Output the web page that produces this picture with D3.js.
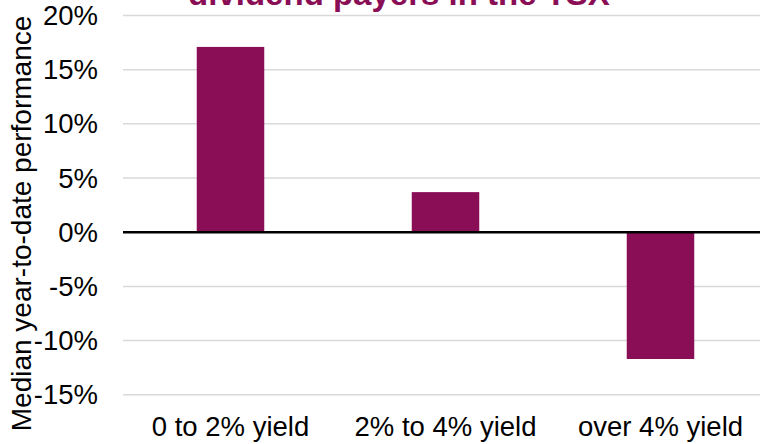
<!DOCTYPE html>
<html>
<head>
<meta charset="utf-8">
<script src="https://cdn.jsdelivr.net/npm/d3@7"></script>
<style>
  html, body { margin: 0; padding: 0; background: #ffffff; }
  svg { display: block; }
  text { font-family: "Liberation Sans", Arial, sans-serif; }
</style>
</head>
<body>
<svg id="chart" width="760" height="444"></svg>
<script>
// Median year-to-date performance by dividend yield bucket
const categories = ["0 to 2% yield", "2% to 4% yield", "over 4% yield"];
const values = [17.1, 3.7, -11.7];
const yTicks = [20, 15, 10, 5, 0, -5, -10, -15];
const titleText = "dividend payers in the TSX";
const yTitle = "Median year-to-date performance";

const W = 760, H = 444;
const plot = { left: 123, right: 768, top: 15.5, bottom: 394.75 };
const barColor = "#8a0e55";

const svg = d3.select("#chart");

const x = d3.scaleBand()
  .domain(categories)
  .range([plot.left, plot.right])
  .paddingInner(0.686)
  .paddingOuter(0.343);

const y = d3.scaleLinear()
  .domain([-15, 20])
  .range([plot.bottom, plot.top]);

// horizontal gridlines
svg.append("g")
  .selectAll("line")
  .data(yTicks.filter(d => d !== 0))
  .join("line")
  .attr("x1", plot.left)
  .attr("x2", W)
  .attr("y1", d => y(d))
  .attr("y2", d => y(d))
  .attr("stroke", "#d9d9d9")
  .attr("stroke-width", 1.5);

// bars
svg.append("g")
  .selectAll("rect")
  .data(values)
  .join("rect")
  .attr("x", (d, i) => x(categories[i]))
  .attr("width", x.bandwidth())
  .attr("y", d => y(Math.max(0, d)))
  .attr("height", d => Math.abs(y(d) - y(0)))
  .attr("fill", barColor);

// zero baseline
svg.append("line")
  .attr("x1", plot.left)
  .attr("x2", W)
  .attr("y1", y(0))
  .attr("y2", y(0))
  .attr("stroke", "#000000")
  .attr("stroke-width", 2.5);

// y tick labels
svg.append("g")
  .selectAll("text")
  .data(yTicks)
  .join("text")
  .attr("x", 98)
  .attr("y", d => y(d))
  .attr("dy", "0.35em")
  .attr("text-anchor", "end")
  .attr("font-size", 27.5)
  .attr("fill", "#000")
  .text(d => d + "%");

// category labels
svg.append("g")
  .selectAll("text")
  .data(categories)
  .join("text")
  .attr("x", d => x(d) + x.bandwidth() / 2)
  .attr("y", 436)
  .attr("text-anchor", "middle")
  .attr("font-size", 27.5)
  .attr("fill", "#000")
  .text(d => d);

// y axis title
svg.append("text")
  .attr("transform", "translate(31," + 223.5 + ") rotate(-90)")
  .attr("text-anchor", "middle")
  .attr("font-size", 28)
  .attr("fill", "#000")
  .text(yTitle);

// chart title (second line, running past the top edge)
svg.append("text")
  .attr("x", 399)
  .attr("y", 5)
  .attr("text-anchor", "middle")
  .attr("font-size", 33)
  .attr("font-weight", "bold")
  .attr("fill", barColor)
  .text(titleText);
</script>
</body>
</html>
